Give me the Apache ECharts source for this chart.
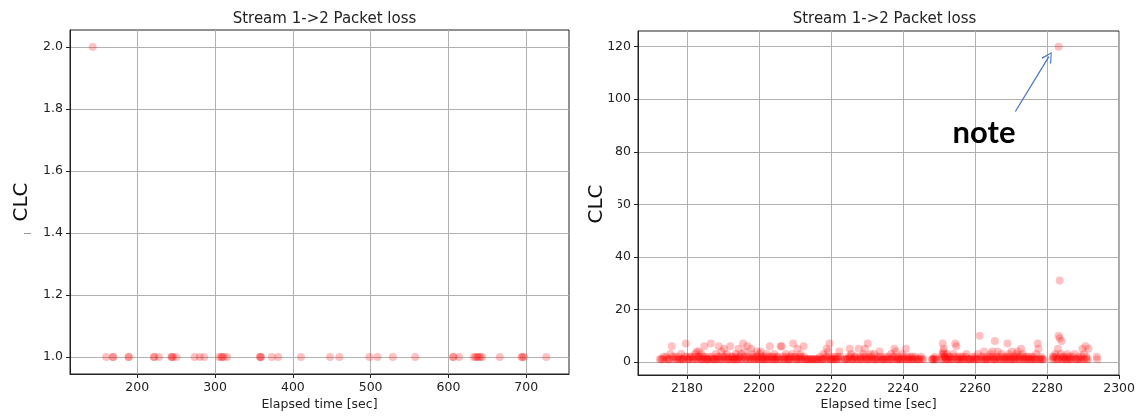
<!DOCTYPE html>
<html>
<head>
<meta charset="utf-8">
<script src="https://cdn.jsdelivr.net/npm/echarts@6/dist/echarts.min.js"></script>
<style>
  html, body { margin: 0; padding: 0; background: #fff; }
  #chart { width: 1138px; height: 416px; }
</style>
</head>
<body>
<div id="chart"></div>
<script>
// left panel: elapsed time [sec] and CLC
const leftTimes = [142.7, 160, 168.6, 169, 188.8, 189.2, 221.4, 221.8, 227.9, 243.8, 244.5, 245.9, 250.2,
  273.8, 280.3, 285.9, 305.2, 308.2, 309, 311.2, 315.5, 357.6, 358.5, 359, 373.1, 381.2, 410.4,
  447.8, 459.8, 498.5, 508.8, 528.6, 557.3, 605.9, 606.5, 613.6, 632.5, 635, 637, 639, 641, 643.3,
  666, 694, 695, 697, 725.8];
const leftClc = [2, 1, 1, 1, 1, 1, 1, 1, 1, 1, 1, 1, 1,
  1, 1, 1, 1, 1, 1, 1, 1, 1, 1, 1, 1, 1, 1,
  1, 1, 1, 1, 1, 1, 1, 1, 1, 1, 1, 1, 1, 1, 1,
  1, 1, 1, 1, 1];

// right panel: [elapsed time, CLC] - the scattered upper points
const rightPoints = [
  [2172.5, 1], [2173.2, 1], [2173.8, 1], [2174.3, 2], [2174.9, 1], [2175.4, 3], [2175.8, 6], [2176.2, 1],
  [2176.7, 2], [2177.3, 1], [2177.9, 1], [2178.4, 3], [2178.9, 1], [2179.3, 2], [2179.7, 7], [2180.1, 1],
  [2180.6, 1], [2181.2, 2], [2181.8, 1], [2182.3, 3], [2182.7, 4], [2183.1, 2], [2183.3, 4], [2183.6, 1],
  [2184.0, 3], [2184.4, 2], [2184.8, 6], [2185.2, 1], [2185.7, 1], [2186.1, 2], [2186.6, 7], [2187.0, 1],
  [2187.5, 1], [2188.0, 3], [2188.4, 2], [2188.8, 6], [2189.2, 1], [2189.6, 4], [2190.0, 2], [2190.3, 5],
  [2190.7, 1], [2191.1, 3], [2191.5, 1], [2192.0, 6], [2192.4, 2], [2192.8, 1], [2193.2, 1], [2193.6, 3],
  [2194.0, 1], [2194.3, 5], [2194.7, 2], [2195.1, 3], [2195.6, 7], [2196.0, 4], [2196.4, 1], [2196.8, 6],
  [2197.2, 2], [2197.8, 5], [2198.1, 3], [2198.5, 1], [2199.0, 2], [2199.4, 4], [2199.8, 1],
  [2200.2, 3], [2200.5, 4], [2200.9, 1], [2201.3, 2], [2201.7, 1], [2202.1, 3], [2202.5, 1], [2203.0, 6],
  [2203.4, 2], [2203.8, 1], [2204.2, 3], [2204.6, 1], [2205.0, 2], [2205.5, 1], [2206.0, 6], [2206.3, 6],
  [2206.7, 2], [2207.1, 1], [2207.5, 3], [2208.0, 1], [2208.4, 2], [2208.8, 1], [2209.2, 3], [2209.5, 7],
  [2209.9, 2], [2210.3, 1], [2210.7, 5], [2211.1, 2], [2211.5, 3], [2211.9, 1], [2212.4, 6], [2212.8, 1],
  [2213.3, 1], [2213.9, 1], [2214.5, 1], [2215.1, 1], [2215.7, 1], [2216.3, 1], [2216.9, 2], [2217.4, 1],
  [2217.9, 3], [2218.4, 2], [2218.8, 5], [2219.2, 4], [2219.6, 7], [2220.0, 1], [2220.4, 2], [2220.9, 1],
  [2221.4, 1], [2221.9, 2], [2222.3, 4], [2222.8, 1],
  [2223.8, 1], [2224.3, 1], [2224.9, 2], [2225.2, 5], [2225.6, 3], [2226.0, 1], [2226.5, 2], [2227.0, 1],
  [2227.7, 5], [2228.1, 2], [2228.5, 1], [2229.0, 3], [2229.4, 5], [2229.8, 1], [2230.2, 7], [2230.6, 2],
  [2231.0, 3], [2231.5, 1], [2232.0, 3], [2232.5, 1], [2233.0, 2], [2233.5, 4], [2234.0, 1], [2234.5, 1],
  [2235.0, 2], [2235.6, 1], [2236.2, 1], [2236.7, 3], [2237.1, 2], [2237.6, 5], [2238.0, 4], [2238.4, 1],
  [2238.8, 2], [2239.3, 1], [2239.8, 3], [2240.2, 1], [2240.8, 5], [2241.2, 2], [2241.6, 1], [2242.1, 1],
  [2242.6, 2], [2243.1, 1], [2243.7, 1], [2244.3, 1], [2245.0, 2], [2245.6, 1],
  [2248.0, 1], [2248.4, 1], [2248.8, 2], [2249.2, 1], [2250.6, 1], [2250.9, 3], [2251.0, 7], [2251.2, 4],
  [2251.3, 5], [2251.5, 2], [2251.8, 1], [2252.2, 3], [2252.6, 1], [2253.0, 2], [2253.5, 1], [2254.0, 3],
  [2254.5, 7], [2254.8, 6], [2255.2, 2], [2255.6, 1], [2256.1, 1], [2256.6, 2], [2257.1, 1], [2257.6, 3],
  [2258.1, 1], [2258.7, 1], [2259.2, 2], [2259.8, 1],
  [2260.3, 1], [2260.8, 3], [2261.3, 10], [2261.6, 2], [2262.0, 1], [2262.5, 4], [2262.9, 1], [2263.4, 2],
  [2263.9, 1], [2264.3, 3], [2264.8, 4], [2265.2, 1], [2265.5, 8], [2265.9, 2], [2266.3, 4], [2266.8, 1],
  [2267.3, 3], [2267.8, 1], [2268.3, 2], [2268.7, 1], [2269.0, 7], [2269.4, 3], [2269.8, 1], [2270.2, 4],
  [2270.6, 2], [2271.0, 1], [2271.4, 3], [2271.8, 4], [2272.2, 1], [2272.6, 2], [2272.8, 5], [2273.2, 3],
  [2273.6, 1], [2274.1, 2], [2274.6, 1], [2275.1, 1], [2275.6, 2], [2276.1, 1], [2276.6, 1], [2277.0, 3],
  [2277.4, 7], [2277.6, 5], [2277.9, 1], [2278.3, 2], [2278.8, 1],
  [2281.4, 1], [2281.9, 2], [2282.3, 3], [2282.7, 1], [2283.0, 5], [2283.2, 10], [2283.2, 120], [2283.5, 9],
  [2283.5, 31], [2283.8, 3], [2284.0, 8], [2284.3, 1], [2284.7, 2], [2285.2, 1], [2285.6, 3], [2286.0, 1],
  [2286.5, 2], [2287.0, 1], [2287.6, 3], [2288.2, 1], [2288.8, 2], [2289.3, 1], [2289.8, 5], [2290.2, 3],
  [2290.7, 6], [2291.0, 1], [2291.5, 5], [2293.8, 2], [2293.9, 1]
];

// right panel: the dense band of low counts near the bottom
const rightBand = [
  [2172.8, 1], [2173.5, 2], [2174.6, 1], [2175.1, 1], [2176.0, 2], [2176.9, 1], [2177.6, 2], [2178.1, 1],
  [2178.6, 1], [2179.0, 1], [2179.9, 2], [2180.4, 1], [2180.9, 2], [2181.5, 1], [2182.0, 2], [2182.5, 1],
  [2182.9, 1], [2183.4, 2], [2183.9, 1], [2184.2, 1], [2184.6, 1], [2185.0, 2], [2185.5, 1], [2185.9, 1],
  [2186.4, 1], [2186.9, 2], [2187.3, 1], [2187.8, 1], [2188.2, 1], [2188.6, 1], [2189.0, 2], [2189.4, 1],
  [2189.9, 1], [2190.5, 2], [2190.9, 1], [2191.3, 2], [2191.7, 1], [2192.2, 1], [2192.6, 2], [2193.0, 1],
  [2193.4, 2], [2193.8, 1], [2194.2, 1], [2194.5, 2], [2194.9, 1], [2195.3, 1], [2195.8, 2], [2196.2, 1],
  [2196.6, 2], [2197.0, 1], [2197.5, 1], [2197.9, 1], [2198.3, 2], [2198.8, 1], [2199.2, 1], [2199.6, 2],
  [2200.0, 1], [2200.4, 1], [2200.7, 2], [2201.1, 1], [2201.5, 1], [2201.9, 2], [2202.3, 1], [2202.8, 2],
  [2203.2, 1], [2203.6, 1], [2204.0, 2], [2204.4, 1], [2204.8, 1], [2205.2, 2], [2205.8, 1], [2206.5, 1],
  [2206.9, 1], [2207.3, 2], [2207.8, 1], [2208.2, 1], [2208.6, 1], [2209.0, 2], [2209.7, 1], [2210.1, 2],
  [2210.5, 1], [2210.9, 1], [2211.3, 1], [2211.7, 2], [2212.1, 1], [2212.6, 2], [2213.0, 1], [2213.6, 1],
  [2214.2, 1], [2214.8, 1], [2215.4, 1], [2216.0, 1], [2216.6, 1], [2217.1, 1], [2217.7, 1], [2218.1, 1],
  [2218.6, 1], [2219.0, 2], [2219.4, 1], [2219.8, 1], [2220.2, 1], [2220.7, 1], [2221.1, 2], [2221.6, 1],
  [2222.0, 1], [2222.6, 2], [2224.0, 1], [2224.6, 1], [2225.0, 1], [2225.4, 2], [2225.8, 1], [2226.3, 1],
  [2226.8, 2], [2227.3, 1], [2227.9, 1], [2228.3, 1], [2228.8, 2], [2229.2, 1], [2229.6, 2], [2230.0, 1],
  [2230.4, 1], [2230.8, 1], [2231.3, 2], [2231.8, 1], [2232.2, 1], [2232.8, 1], [2233.3, 1], [2233.8, 2],
  [2234.3, 1], [2234.8, 1], [2235.3, 1], [2235.9, 2], [2236.5, 1], [2236.9, 1], [2237.4, 1], [2237.8, 2],
  [2238.2, 1], [2238.6, 1], [2239.0, 1], [2239.6, 1], [2240.0, 2], [2240.5, 1], [2241.0, 1], [2241.4, 1],
  [2241.9, 2], [2242.4, 1], [2242.9, 1], [2243.4, 2], [2244.0, 1], [2244.7, 1], [2245.3, 1], [2248.2, 1],
  [2248.6, 1], [2249.0, 1], [2250.8, 2], [2251.1, 1], [2251.4, 3], [2251.7, 2], [2252.0, 1], [2252.4, 1],
  [2252.8, 2], [2253.2, 1], [2253.8, 1], [2254.2, 2], [2254.7, 1], [2255.0, 1], [2255.4, 1], [2255.9, 2],
  [2256.4, 1], [2256.9, 1], [2257.4, 2], [2257.9, 1], [2258.4, 1], [2259.0, 1], [2259.5, 1], [2260.0, 2],
  [2260.5, 1], [2261.0, 1], [2261.8, 1], [2262.2, 2], [2262.7, 1], [2263.2, 1], [2263.6, 1], [2264.1, 2],
  [2264.6, 1], [2265.0, 2], [2265.4, 1], [2265.7, 1], [2266.1, 1], [2266.5, 2], [2267.0, 1], [2267.5, 2],
  [2268.0, 1], [2268.5, 1], [2268.9, 2], [2269.2, 1], [2269.6, 2], [2270.0, 1], [2270.4, 1], [2270.8, 1],
  [2271.2, 2], [2271.6, 1], [2272.0, 2], [2272.4, 1], [2273.0, 1], [2273.4, 2], [2273.8, 1], [2274.3, 1],
  [2274.8, 2], [2275.3, 1], [2275.8, 1], [2276.3, 2], [2276.8, 1], [2277.2, 1], [2278.1, 1], [2278.5, 1],
  [2279.0, 1], [2281.6, 2], [2282.0, 1], [2282.5, 2], [2282.9, 1], [2283.3, 1], [2283.6, 2], [2284.1, 1],
  [2284.5, 2], [2284.9, 1], [2285.4, 1], [2285.8, 2], [2286.2, 1], [2286.7, 1], [2287.3, 2], [2287.9, 1],
  [2288.5, 1], [2289.0, 1], [2289.5, 2], [2290.0, 1], [2290.4, 1], [2290.9, 2], [2291.3, 1]
];

const leftXTicks = [200, 300, 400, 500, 600, 700];
const leftYTicks = [1.0, 1.2, 1.4, 1.6, 1.8, 2.0];
const rightXTicks = [2180, 2200, 2220, 2240, 2260, 2280, 2300];
const rightYTicks = [0, 20, 40, 60, 80, 100, 120];

const chart = echarts.init(document.getElementById("chart"));
const font = "DejaVu Sans";
const pointColor = "rgba(255,0,0,0.3)";

function makeAxis(ticks, min, max, extra) {
  return Object.assign({
    type: "value",
    min: min,
    max: max,
    nameMoveOverlap: false,
    axisLine: { show: true, onZero: false, lineStyle: { color: "#222", width: 1 } },
    axisTick: { show: true, length: 4, customValues: ticks, lineStyle: { color: "#222" } },
    axisLabel: { customValues: ticks, color: "#222", fontFamily: font, fontSize: 12.5, margin: 7,
      formatter: (v) => String(v) },
    splitLine: { show: true, lineStyle: { color: "#b0b0b0", width: 1 } },
  }, extra);
}

const titleStyle = { fontFamily: font, fontSize: 15, fontWeight: "normal", color: "#222" };
const xNameStyle = { fontFamily: font, fontSize: 12.5, color: "#222" };

const option = {
  animation: false,
  backgroundColor: "#fff",
  title: [
    { text: "Stream 1->2 Packet loss", left: 319.5, top: 7, textAlign: "center", textStyle: titleStyle },
    { text: "Stream 1->2 Packet loss", left: 879.5, top: 7, textAlign: "center", textStyle: titleStyle },
  ],
  grid: [
    { left: 70, right: 569, top: 30, bottom: 41, show: true, borderColor: "#222", borderWidth: 1 },
    { left: 638, right: 17, top: 31, bottom: 40, show: true, borderColor: "#222", borderWidth: 1 },
  ],
  xAxis: [
    makeAxis(leftXTicks, 113.5, 755, {
      gridIndex: 0, name: "Elapsed time [sec]", nameLocation: "middle", nameGap: 24,
      nameTextStyle: xNameStyle,
    }),
    makeAxis(rightXTicks, 2166.4, 2300, {
      gridIndex: 1, name: "Elapsed time [sec]", nameLocation: "middle", nameGap: 23,
      nameTextStyle: xNameStyle,
    }),
  ],
  yAxis: [
    makeAxis(leftYTicks, 0.945, 2.055, {
      gridIndex: 0, name: "CLC", nameLocation: "middle", nameGap: 38,
      nameTextStyle: { fontFamily: font, fontSize: 20, color: "#111" },
      axisLabel: { customValues: leftYTicks, color: "#222", fontFamily: font, fontSize: 12.5, margin: 7,
        formatter: (v) => v.toFixed(1) },
    }),
    makeAxis(rightYTicks, -4.95, 125.95, { gridIndex: 1 }),
  ],
  series: [
    {
      type: "scatter",
      xAxisIndex: 0,
      yAxisIndex: 0,
      symbolSize: 8,
      itemStyle: { color: pointColor },
      data: leftTimes.map((t, i) => [t, leftClc[i]]),
    },
    {
      type: "scatter",
      xAxisIndex: 1,
      yAxisIndex: 1,
      symbolSize: 8,
      itemStyle: { color: pointColor },
      data: rightPoints.concat(rightBand),
      markLine: {
        silent: true,
        symbol: ["none", "path://M0,0 L6,10 L5,11 L0,2 L-5,11 L-6,10 Z"],
        symbolSize: [11, 11],
        label: { show: false },
        lineStyle: { color: "#4472c4", width: 1.2, type: "solid" },
        data: [[{ coord: [2271.2, 95.3] }, { coord: [2280.5, 116.2] }]],
      },
      markPoint: {
        silent: true,
        symbol: "circle",
        symbolSize: 1,
        itemStyle: { color: "rgba(0,0,0,0)" },
        label: { show: true, position: "inside", formatter: "note", color: "#000",
          fontFamily: "Lato", fontWeight: "bold", fontSize: 31 },
        data: [{ coord: [2262.5, 87.3] }],
      },
    },
  ],
  graphic: [
    { type: "rect", shape: { x: 24, y: 233, width: 7, height: 1 }, style: { fill: "#999" } },
    // the right "CLC" label sits on a white patch that hides part of the 60 tick label
    { type: "rect", z: 10, shape: { x: 585, y: 178, width: 33, height: 50 }, style: { fill: "#fff" } },
    { type: "text", z: 11, x: 597, y: 204, rotation: Math.PI / 2,
      style: { text: "CLC", fontFamily: font, fontSize: 20, fill: "#111", align: "center", verticalAlign: "middle" } },
  ],
};

chart.setOption(option);
</script>
</body>
</html>
